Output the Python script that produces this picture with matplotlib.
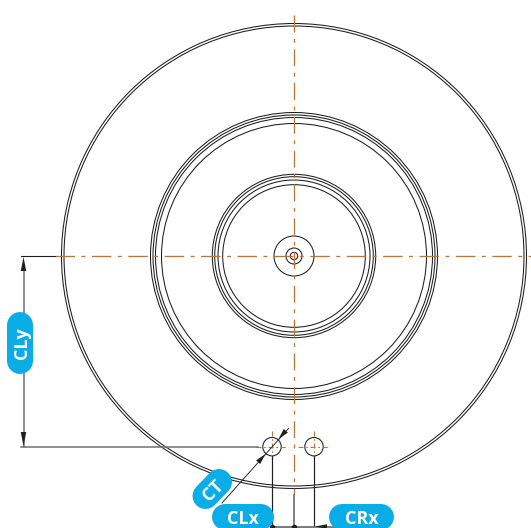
import matplotlib
matplotlib.use("Agg")
import matplotlib.pyplot as plt
from matplotlib.patches import Circle, Polygon
import numpy as np

W, H = 531, 528
CENTER = (294, 256)
ring_radii = [232.5, 230, 143.5, 141, 138.5, 132.5, 81.7, 79.3, 76, 71.3, 20, 8, 3.7]
hole_centers = [(272, 446.7), (314, 446.7)]
hole_radius = 9.2
badges = [
    ("CLy", (20, 325), (20, 361), 90),
    ("CT", (205.5, 496), (219, 482), 45),
    ("CLx", (225, 517), (261, 517), 0),
    ("CRx", (342, 517), (381, 517), 0),
]
DARK = "#1f1f1f"
GRAY = "#6e6e6e"
ORANGE = "#b9763a"
BLUE = "#0badE6"
PX = 0.72

fig = plt.figure(figsize=(W / 100, H / 100), dpi=100)
ax = fig.add_axes([0, 0, 1, 1])
ax.set_xlim(0, W)
ax.set_ylim(H, 0)
ax.axis("off")

for r in ring_radii:
    ax.add_patch(Circle(CENTER, r, fill=False, ec=DARK, lw=1.05 * PX))
for c in hole_centers:
    ax.add_patch(Circle(c, hole_radius, fill=False, ec=DARK, lw=1.05 * PX))

dash = (0, (15, 5, 3, 5))
ax.plot([55, 531], [CENTER[1]] * 2, color=ORANGE, lw=1.3 * PX, ls=dash)
ax.plot([CENTER[0]] * 2, [15, 495], color=ORANGE, lw=1.3 * PX, ls=(0, (13, 5, 3, 5)))
short = (0, (4.5, 2.5, 1.5, 2.5))
for cx, cy in hole_centers:
    ax.plot([cx - 16, cx + 16], [cy, cy], color=ORANGE, lw=1.1 * PX, ls=short)
    ax.plot([cx, cx], [cy - 16, cy + 12], color=ORANGE, lw=1.1 * PX, ls=short)

# dimension lines
ax.plot([21, 55], [256, 256], color=DARK, lw=1.1 * PX)
ax.plot([21, 258], [446.7, 446.7], color=GRAY, lw=1.5 * PX)
ax.plot([23.5, 23.5], [265, 446.7], color=GRAY, lw=1.5 * PX)
ax.plot([272, 272], [456, 526], color=DARK, lw=1.2 * PX)
ax.plot([314, 314], [456, 526], color=DARK, lw=1.2 * PX)
ax.plot([294, 294], [495, 526], color=GRAY, lw=1.7 * PX)
ax.plot([272, 345], [526.5, 526.5], color=GRAY, lw=1.8 * PX)
ax.plot([222, 288.5], [503, 428.5], color=DARK, lw=0.9 * PX)
ax.plot([272, 294], [526.5, 526.5], ls="none", marker="o", ms=3, color=DARK)

def arrow(tip, angle, length=14, width=5.5):
    d = np.array([np.cos(angle), np.sin(angle)])
    n = np.array([-d[1], d[0]])
    t = np.array(tip, float)
    ax.add_patch(Polygon([t, t + d * length + n * width / 2, t + d * length - n * width / 2],
                         fc="#1f1f1f", ec="none", zorder=4))

arrow((23.5, 257), np.pi / 2)
arrow((23.5, 446), -np.pi / 2)
arrow((265.5, 454), np.arctan2(48, -43), 11, 5.5)
arrow((278.5, 439), np.arctan2(-48, 43), 11, 5.5)
arrow((315, 526.5), 0, 12, 4.5)

for label, p0, p1, rot in badges:
    ax.plot([p0[0], p1[0]], [p0[1], p1[1]], color=BLUE, lw=26 * PX,
            solid_capstyle="round", zorder=5)
    ax.text((p0[0] + p1[0]) / 2, (p0[1] + p1[1]) / 2, label, color="white",
            fontsize=13, fontweight="bold", family="Open Sans", rotation=rot,
            rotation_mode="anchor", ha="center", va="center_baseline", zorder=6)

fig.savefig("out.png", dpi=100)
